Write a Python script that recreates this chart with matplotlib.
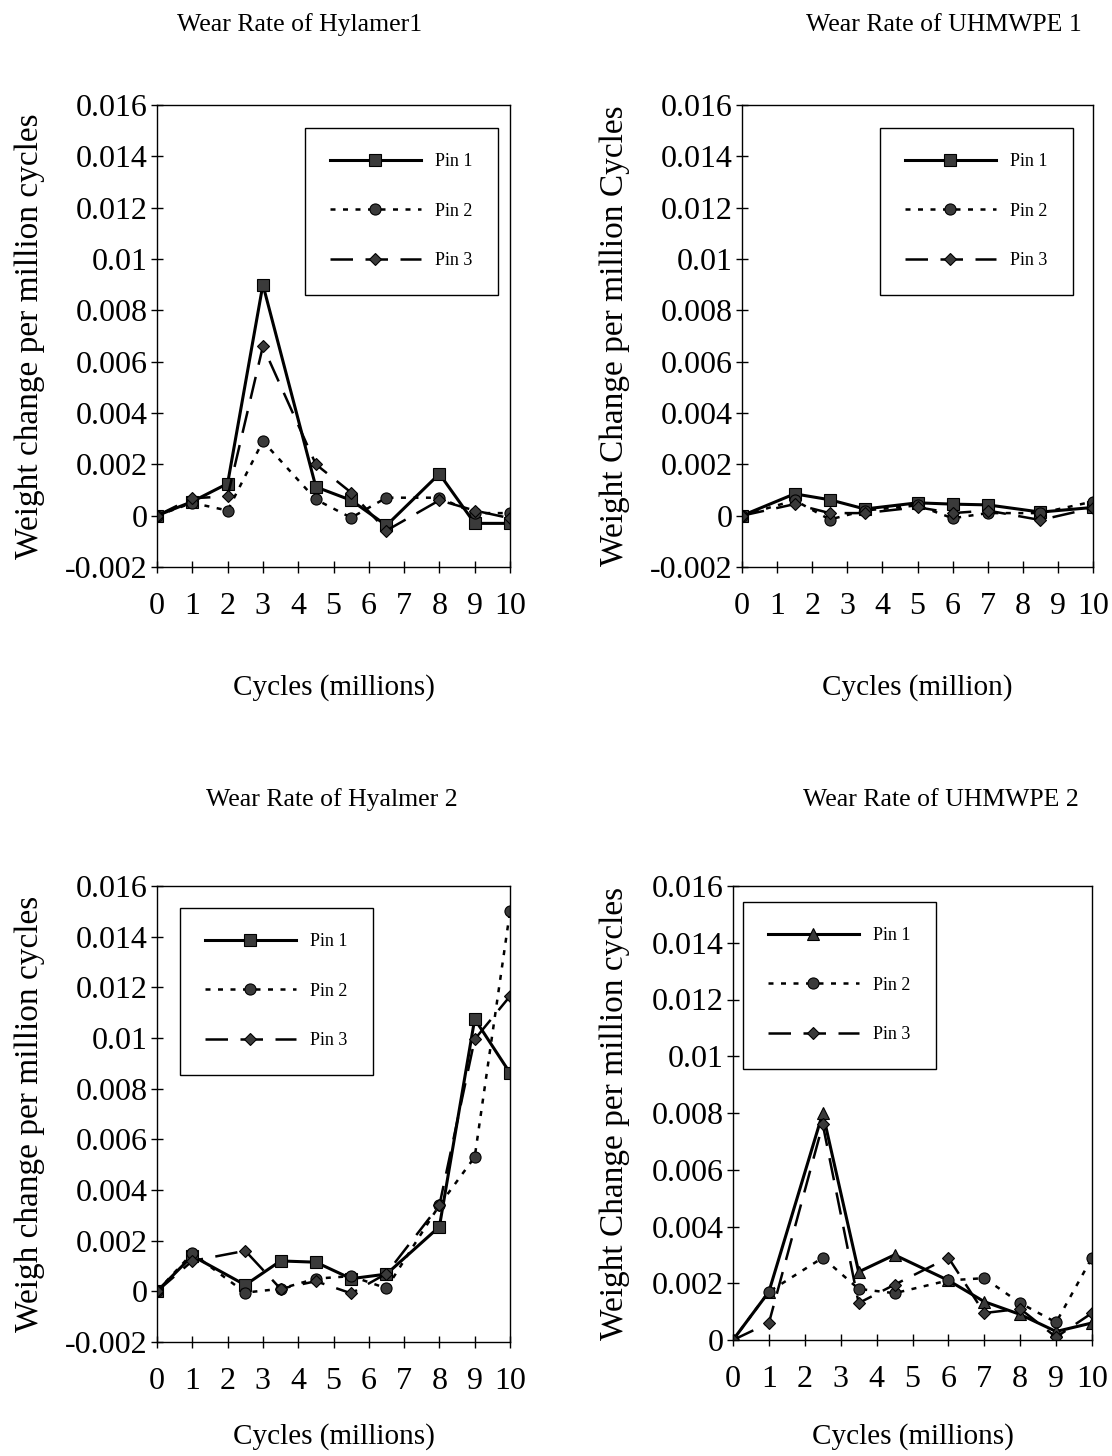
import matplotlib
matplotlib.use('Agg')
import matplotlib.pyplot as plt

plt.rcParams['font.family'] = ['Liberation Serif', 'DejaVu Serif']

# Hylamer 1
h1_x = [0, 1, 2, 3, 4.5, 5.5, 6.5, 8, 9, 10]
h1_pin1 = [0, 0.00055, 0.00125, 0.0090, 0.00112, 0.0006, -0.00038, 0.00163, -0.0003, -0.0003]
h1_pin2 = [0, 0.0005, 0.0002, 0.0029, 0.00063, -0.00008, 0.0007, 0.0007, 0.0001, 0.0001]
h1_pin3 = [0, 0.00068, 0.00075, 0.0066, 0.002, 0.0009, -0.00058, 0.0006, 0.0002, -0.0001]

# UHMWPE 1
u1_x = [0, 1.5, 2.5, 3.5, 5, 6, 7, 8.5, 10]
u1_pin1 = [0, 0.00085, 0.00062, 0.00026, 0.0005, 0.00045, 0.00042, 0.00014, 0.00032]
u1_pin2 = [0, 0.0006, -0.00015, 0.0002, 0.0004, -0.0001, 0.0001, 0.0001, 0.00055]
u1_pin3 = [0, 0.00045, 0.0001, 0.0001, 0.00033, 0.0001, 0.0002, -0.00017, 0.0003]

# Hylamer 2
h2_x = [0, 1, 2.5, 3.5, 4.5, 5.5, 6.5, 8, 9, 10]
h2_pin1 = [0, 0.0014, 0.00025, 0.0012, 0.00115, 0.0005, 0.00068, 0.00255, 0.01075, 0.00862]
h2_pin2 = [0, 0.0015, -0.00005, 0.0001, 0.0005, 0.0006, 0.00012, 0.0034, 0.0053, 0.0150]
h2_pin3 = [0, 0.0012, 0.0016, 0.0001, 0.0004, -0.00008, 0.0007, 0.0034, 0.00995, 0.01165]

# UHMWPE 2
u2_x = [0, 1, 2.5, 3.5, 4.5, 6, 7, 8, 9, 10]
u2_pin1 = [0, 0.0017, 0.0080, 0.0024, 0.0030, 0.0021, 0.00135, 0.0009, 0.0003, 0.0006]
u2_pin2 = [0, 0.0017, 0.0029, 0.0018, 0.00165, 0.0021, 0.00218, 0.0013, 0.00062, 0.0029]
u2_pin3 = [0, 0.0006, 0.0076, 0.0013, 0.00195, 0.0029, 0.00095, 0.0011, 0.0001, 0.00095]

x_ticks = list(range(0, 11))
y_ticks = [-0.002, 0, 0.002, 0.004, 0.006, 0.008, 0.01, 0.012, 0.014, 0.016]
y_ticklabels = ['-0.002', '0', '0.002', '0.004', '0.006', '0.008', '0.01', '0.012', '0.014', '0.016']

panels = [
    dict(title='Wear Rate of Hylamer1', x=h1_x, ys=[h1_pin1, h1_pin2, h1_pin3],
         m1='s', ylabel='Weight change per million cycles', xlabel='Cycles (millions)',
         ymin=-0.002, rect=[157, 105, 510, 567], leg=[305, 128], tpos=(300, 25), xl_y=688),
    dict(title='Wear Rate of UHMWPE 1', x=u1_x, ys=[u1_pin1, u1_pin2, u1_pin3],
         m1='s', ylabel='Weight Change per million Cycles', xlabel='Cycles (million)',
         ymin=-0.002, rect=[742, 105, 1093, 567], leg=[880, 128], tpos=(944, 25), xl_y=688),
    dict(title='Wear Rate of Hyalmer 2', x=h2_x, ys=[h2_pin1, h2_pin2, h2_pin3],
         m1='s', ylabel='Weigh change per million cycles', xlabel='Cycles (millions)',
         ymin=-0.002, rect=[157, 886, 510, 1342], leg=[180, 908], tpos=(332, 800), xl_y=1437),
    dict(title='Wear Rate of UHMWPE 2', x=u2_x, ys=[u2_pin1, u2_pin2, u2_pin3],
         m1='^', ylabel='Weight Change per million cycles', xlabel='Cycles (millions)',
         ymin=0, rect=[733, 886, 1092, 1340], leg=[743, 902], tpos=(941, 800), xl_y=1437),
]

W, H = 1112, 1456
fig = plt.figure(figsize=(W / 100, H / 100), dpi=100)

styles = ['-', (0, (2, 3)), (0, (9, 5))]
markers = [None, 'o', 'D']
msizes = [8, 8, 6]
names = ['Pin 1', 'Pin 2', 'Pin 3']

for p in panels:
    l, t, r, b = p['rect']
    ax = fig.add_axes([l / W, 1 - b / H, (r - l) / W, (b - t) / H])
    for i in range(3):
        mk = p['m1'] if i == 0 else markers[i]
        ms = 9 if (i == 0 and mk == '^') else msizes[i]
        ax.plot(p['x'], p['ys'][i], linestyle=styles[i], color='black', lw=2.2 if i == 0 else 1.8,
                marker=mk, markersize=ms, markerfacecolor='#3a3a3a', markeredgecolor='black',
                markeredgewidth=0.8, label=names[i])
    ax.set_xlim(0, 10)
    ax.set_ylim(p['ymin'], 0.016)
    ax.set_xticks(x_ticks)
    ax.set_xticklabels([str(v) for v in x_ticks], fontsize=23)
    yt = [v for v in y_ticks if v >= p['ymin'] - 1e-9]
    ylab = [s for v, s in zip(y_ticks, y_ticklabels) if v >= p['ymin'] - 1e-9]
    ax.set_yticks(yt)
    ax.set_yticklabels(ylab, fontsize=23)
    ax.tick_params(direction='inout', length=8, width=1)
    ax.tick_params(axis='y', pad=3)
    ax.tick_params(axis='x', pad=14)
    for s in ax.spines.values():
        s.set_linewidth(1)
    ax.set_ylabel(p['ylabel'], fontsize=24)
    ax.yaxis.set_label_coords((30 - l + (0 if l < 500 else 585)) / (r - l), 0.5)
    ax.yaxis.label.set_va('center')
    ax.set_xlabel(p['xlabel'], fontsize=21)
    ax.xaxis.set_label_coords(0.5, -(p['xl_y'] - b) / (b - t))
    ax.xaxis.label.set_va('center')

    lx0, ly0 = p['leg']
    leg = ax.legend(loc='upper left', handlelength=5.0, numpoints=1, fontsize=13,
                    labelspacing=1.8, borderpad=1.4, handletextpad=0.8,
                    fancybox=False, edgecolor='black', framealpha=1,
                    bbox_to_anchor=((lx0 - l) / (r - l), 1 - (ly0 - t) / (b - t)),
                    borderaxespad=0)
    leg.get_frame().set_linewidth(1)

    tx, ty = p['tpos']
    fig.text(tx / W, 1 - ty / H, p['title'], ha='center', va='center', fontsize=18.5)

fig.savefig('out.png', dpi=100)
